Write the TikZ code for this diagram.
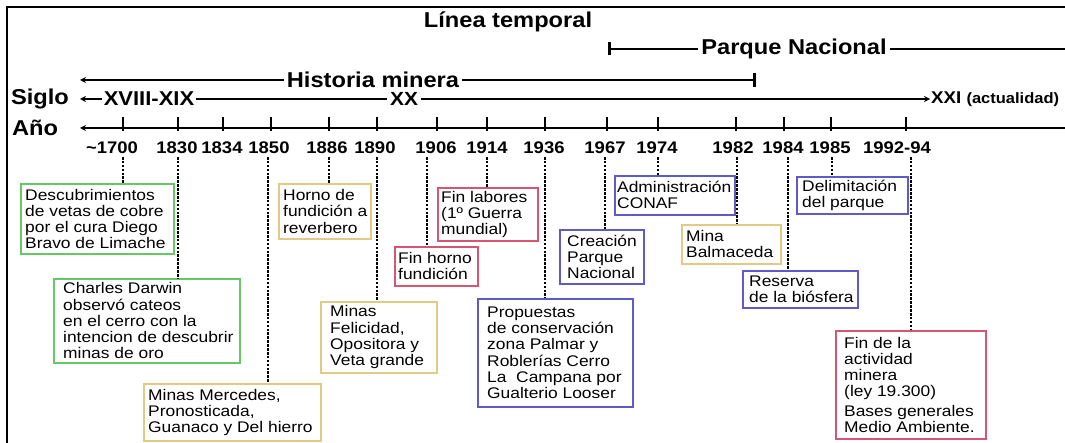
\documentclass[tikz,border=0pt]{standalone}
\usepackage{fontspec}
\setmainfont{Liberation Sans}
\newfontfamily\bfont{Liberation Sans}[FakeStretch=1.13]
\newfontfamily\hfont{Liberation Sans Bold}[FakeStretch=1.1]
\usetikzlibrary{arrows.meta}
\definecolor{cgreen}{RGB}{100,200,100}
\definecolor{ctan}{RGB}{226,202,132}
\definecolor{cred}{RGB}{215,85,115}
\definecolor{cblue}{RGB}{95,90,200}
\tikzset{
  ebox/.style={draw, line width=1.6pt, inner sep=0pt, anchor=north west},
  btxt/.style={font=\bfont\fontsize{15.4}{16.2}\selectfont, align=left, inner sep=0pt, anchor=west},
  conn/.style={line width=1.8pt, dash pattern=on 2.6pt off 1.3pt},
  tline/.style={line width=2.6pt},
  tick/.style={line width=1.5pt},
  yr/.style={font=\hfont\fontsize{16.8}{18}\selectfont, inner sep=0pt},
  hd/.style={font=\hfont\fontsize{21.5}{24}\selectfont, inner xsep=3pt, inner ysep=1pt, fill=white}
}
\begin{document}
\begin{tikzpicture}[x=1pt,y=-1pt]
\useasboundingbox (0,0) rectangle (1065,443);
% frame
\coordinate (fr1) at (7,443); \coordinate (fr2) at (7,7); \coordinate (fr3) at (1065,7);
\draw[line width=1.5pt] (fr1) -- (fr2) -- (fr3);
% timeline lines
\coordinate (pnL) at (608,49); \coordinate (pnR) at (1065,49);
\coordinate (hmL) at (80,80); \coordinate (hmR) at (756,80);
\coordinate (sgL) at (80,99); \coordinate (sgR) at (930,99);
\coordinate (anL) at (80,128); \coordinate (anR) at (1065,128);
\draw[tline, {Bar[width=13pt]}-] (pnL) -- (pnR);
\draw[tline, {Stealth[length=6pt,width=6pt]}-{Bar[width=14pt]}] (hmL) -- (hmR);
\draw[tline, {Stealth[length=6pt,width=6pt]}-{Stealth[length=6pt,width=6pt]}] (sgL) -- (sgR);
\draw[tline, {Stealth[length=6pt,width=6pt]}-] (anL) -- (anR);
\foreach \x in {123,178,223,271,329,377,437,487,545,607,658,736,784,831,906}
  \draw[tick] (\x,117) -- (\x,131);
% header texts
\node[hd] (title) at (508,22) {Línea temporal};
\node[hd] (pn) at (794,49) {Parque Nacional};
\node[hd] (hm) at (373,80) {Historia minera};
\node[hd, fill=none] (siglo) at (40,99) {Siglo};
\node[hd, fill=none] (ano) at (35,128) {Año};
\node[hd, font=\hfont\fontsize{20}{22}\selectfont, inner xsep=2pt] (s1) at (149,99) {XVIII-XIX};
\node[hd, font=\hfont\fontsize{19}{22}\selectfont] (s2) at (404,99) {XX};
\node[hd, anchor=west, inner xsep=1pt, font=\hfont\fontsize{17}{20}\selectfont] (s3) at (930,99) {XXI {\fontsize{15}{18}\selectfont(actualidad)}};
% year labels
\node[yr] (l1700) at (112,148) {\textasciitilde1700};
\node[yr] (l1830) at (177,148) {1830};
\node[yr] (l1834) at (222,148) {1834};
\node[yr] (l1850) at (269,148) {1850};
\node[yr] (l1886) at (327,148) {1886};
\node[yr] (l1890) at (375,148) {1890};
\node[yr] (l1906) at (436,148) {1906};
\node[yr] (l1914) at (487,148) {1914};
\node[yr] (l1936) at (544,148) {1936};
\node[yr] (l1967) at (605,148) {1967};
\node[yr] (l1974) at (657,148) {1974};
\node[yr] (l1982) at (733,148) {1982};
\node[yr] (l1984) at (783,148) {1984};
\node[yr] (l1985) at (830,148) {1985};
\node[yr] (l1992) at (897,148) {1992-94};
% connector starts
\coordinate (c1700) at (123,157);
\coordinate (c1830) at (178,157);
\coordinate (c1850) at (268,157);
\coordinate (c1886) at (329,157);
\coordinate (c1890) at (377,157);
\coordinate (c1906) at (427,157);
\coordinate (c1914) at (487,157);
\coordinate (c1936) at (545,157);
\coordinate (c1967) at (605,157);
\coordinate (c1974) at (658,157);
\coordinate (c1982) at (737,157);
\coordinate (c1984) at (788,157);
\coordinate (c1985) at (832,157);
\coordinate (c1992) at (911,157);
% boxes
\node[ebox, draw=cgreen, minimum width=153pt, minimum height=70pt] (b1) at (20,183) {};
\node[btxt] (t1) at ([xshift=5pt]b1.west) {Descubrimientos\\de vetas de cobre\\por el cura Diego\\Bravo de Limache};
\node[ebox, draw=cgreen, minimum width=186pt, minimum height=84pt] (b2) at (53,278) {};
\node[btxt] (t2) at ([xshift=10pt]b2.west) {Charles Darwin\\observó cateos\\en el cerro con la\\intencion de descubrir\\minas de oro};
\node[ebox, draw=ctan, minimum width=177pt, minimum height=57pt] (b3) at (143,383) {};
\node[btxt] (t3) at ([xshift=5pt]b3.west) {Minas Mercedes,\\Pronosticada,\\Guanaco y Del hierro};
\node[ebox, draw=ctan, minimum width=92pt, minimum height=55pt] (b4) at (278,183) {};
\node[btxt] (t4) at ([xshift=5pt]b4.west) {Horno de\\fundición a\\reverbero};
\node[ebox, draw=ctan, minimum width=116pt, minimum height=71pt] (b5) at (320,301) {};
\node[btxt] (t5) at ([xshift=10pt]b5.west) {Minas\\Felicidad,\\Opositora y\\Veta grande};
\node[ebox, draw=cred, minimum width=83pt, minimum height=39pt] (b6) at (394,246) {};
\node[btxt] (t6) at ([xshift=4pt]b6.west) {Fin horno\\fundición};
\node[ebox, draw=cred, minimum width=100pt, minimum height=53pt] (b7) at (437,187) {};
\node[btxt] (t7) at ([xshift=4pt]b7.west) {Fin labores\\(1º Guerra\\mundial)};
\node[ebox, draw=cblue, minimum width=155pt, minimum height=108pt] (b8) at (477,298) {};
\node[btxt] (t8) at ([xshift=10pt]b8.west) {Propuestas\\de conservación\\zona Palmar y\\Roblerías Cerro\\La\ \ Campana por\\Gualterio Looser};
\node[ebox, draw=cblue, minimum width=84pt, minimum height=54pt] (b9) at (559,229) {};
\node[btxt] (t9) at ([xshift=8pt]b9.west) {Creación\\Parque\\Nacional};
\node[ebox, draw=cblue, minimum width=120pt, minimum height=39pt] (b10) at (614,175) {};
\node[btxt] (t10) at ([xshift=3pt]b10.west) {Administración\\CONAF};
\node[ebox, draw=ctan, minimum width=99pt, minimum height=39pt] (b11) at (681,224) {};
\node[btxt] (t11) at ([xshift=5pt]b11.west) {Mina\\Balmaceda};
\node[ebox, draw=cblue, minimum width=115pt, minimum height=37pt] (b12) at (742,270) {};
\node[btxt] (t12) at ([xshift=7pt]b12.west) {Reserva\\de la biósfera};
\node[ebox, draw=cblue, minimum width=111pt, minimum height=37pt] (b13) at (796,176) {};
\node[btxt] (t13) at ([xshift=6pt]b13.west) {Delimitación\\del parque};
\node[ebox, draw=cred, minimum width=150pt, minimum height=108pt] (b14) at (835,330) {};
\node[btxt] (t14) at ([xshift=9pt]b14.west) {Fin de la\\actividad\\minera\\(ley 19.300)\\[3pt]Bases generales\\Medio Ambiente.};
% connectors
\draw[conn] (c1700) -- (c1700 |- b1.north);
\draw[conn] (c1830) -- (c1830 |- b2.north);
\draw[conn] (c1850) -- (c1850 |- b3.north);
\draw[conn] (c1886) -- (c1886 |- b4.north);
\draw[conn] (c1890) -- (c1890 |- b5.north);
\draw[conn] (c1906) -- (c1906 |- b6.north);
\draw[conn] (c1914) -- (c1914 |- b7.north);
\draw[conn] (c1936) -- (c1936 |- b8.north);
\draw[conn] (c1967) -- (c1967 |- b9.north);
\draw[conn] (c1974) -- (c1974 |- b10.north);
\draw[conn] (c1982) -- (c1982 |- b11.north);
\draw[conn] (c1984) -- (c1984 |- b12.north);
\draw[conn] (c1985) -- (c1985 |- b13.north);
\draw[conn] (c1992) -- (c1992 |- b14.north);
\end{tikzpicture}
\end{document}
